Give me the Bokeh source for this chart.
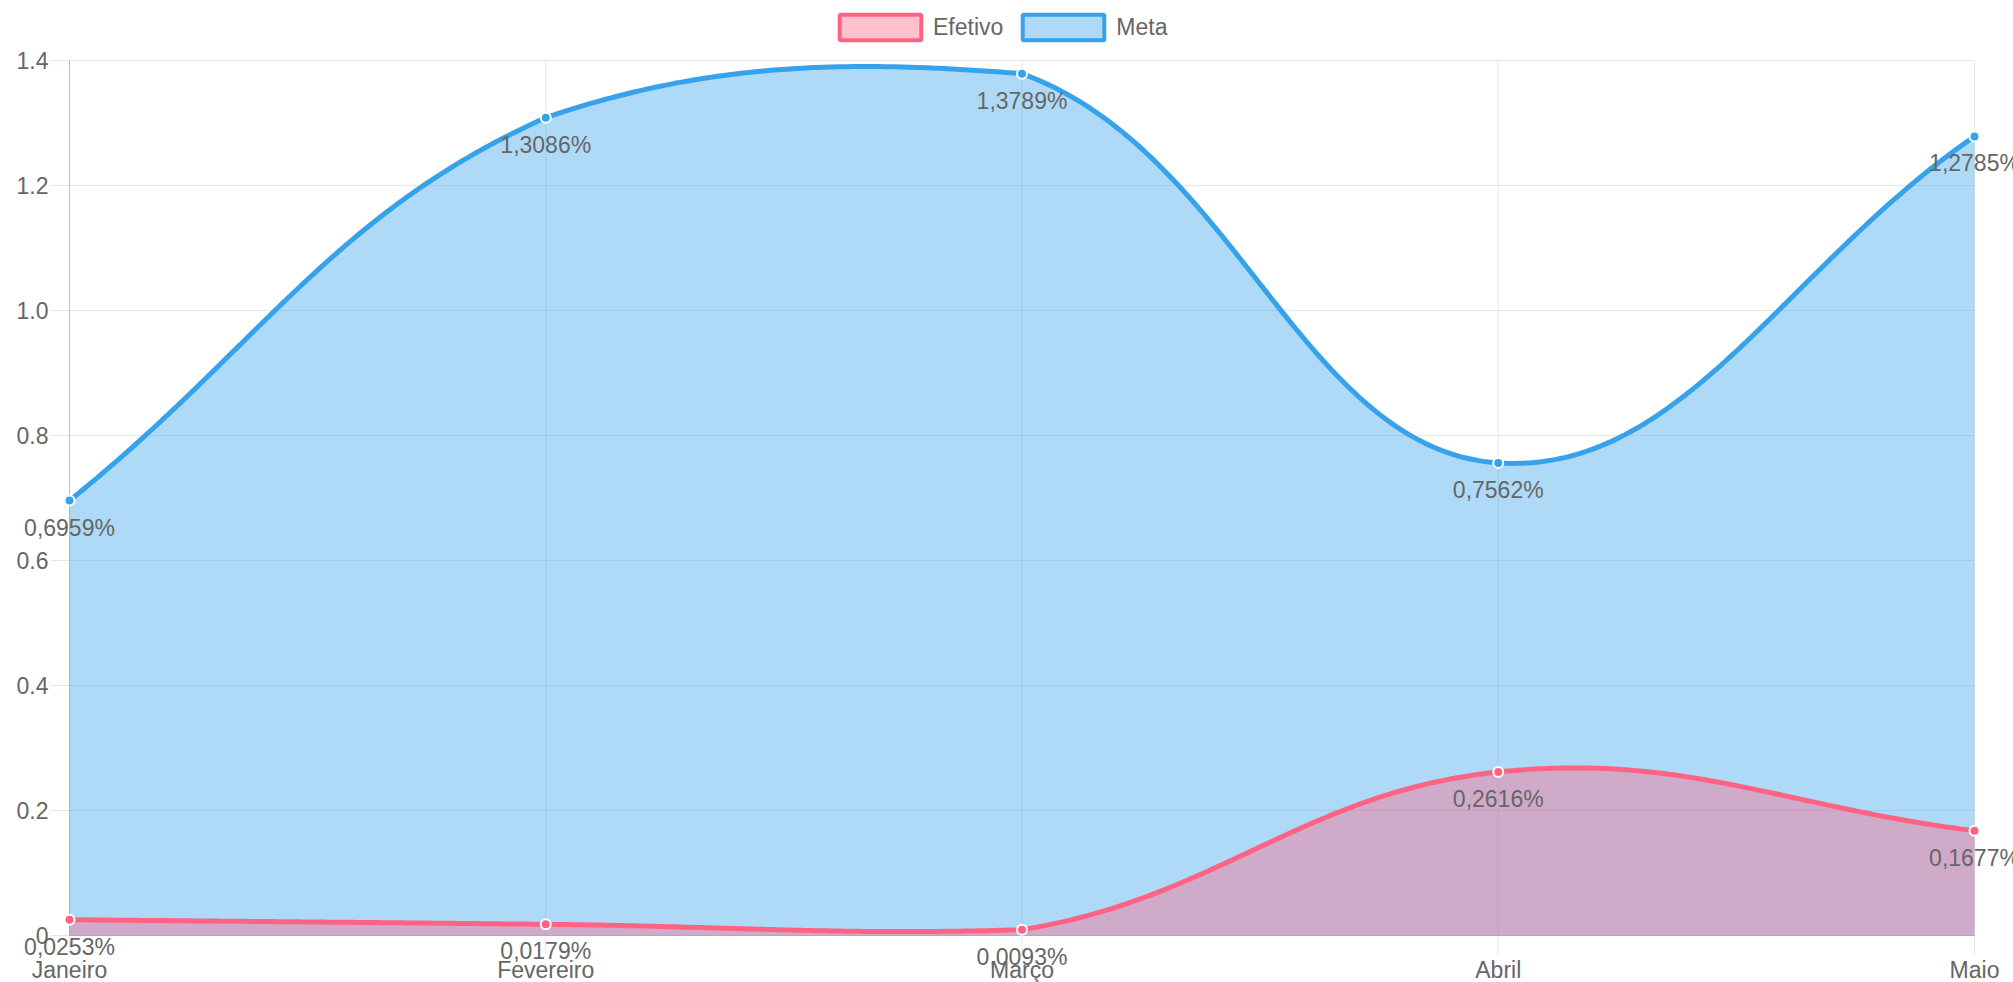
import numpy as np
from bokeh.plotting import figure
from bokeh.models import Range1d, Legend, LegendItem, ColumnDataSource
from bokeh.core.properties import value
from bokeh.embed import file_html
from bokeh.resources import INLINE

# ---------------- data ----------------
categories = ["Janeiro", "Fevereiro", "Março", "Abril", "Maio"]
efetivo = [0.0253, 0.0179, 0.0093, 0.2616, 0.1677]
meta = [0.6959, 1.3086, 1.3789, 0.7562, 1.2785]
series_names = ["Efetivo", "Meta"]
y_ticks = [0, 0.2, 0.4, 0.6, 0.8, 1.0, 1.2, 1.4]
y_tick_labels = ["0", "0.2", "0.4", "0.6", "0.8", "1.0", "1.2", "1.4"]

# ---------------- layout (pixels) ----------------
W, H = 2013, 982
PL, PR, PT, PB = 69, 1974, 60, 935      # plot area edges in canvas pixels
X_MAX = len(categories) - 1
Y_MAX = y_ticks[-1]
KX = (PR - PL) / X_MAX                  # px per category step
KY = (PB - PT) / Y_MAX                  # px per value unit
TICK = 19                               # tick mark length, px
FONT = "Liberation Sans"
FS = "23px"
TXT = "#666666"
GRID = "#e6e6e6"
AXIS = "#bfbfbf"
PINK = "#FF6384"
BLUE = "#36A2EB"


def spline(vals, tension=0.4, n=120):
    """Chart.js style spline (tension 0.4), control points capped to the plot area."""
    m = len(vals)
    xs = np.arange(m, dtype=float)
    ys = np.asarray(vals, dtype=float)
    cps = []
    for i in range(m):
        ip = max(i - 1, 0)
        inx = min(i + 1, m - 1)
        d01 = np.hypot((xs[i] - xs[ip]) * KX, (ys[i] - ys[ip]) * KY)
        d12 = np.hypot((xs[inx] - xs[i]) * KX, (ys[inx] - ys[i]) * KY)
        tot = d01 + d12
        s01 = d01 / tot if tot else 0.0
        s12 = d12 / tot if tot else 0.0
        fa, fb = tension * s01, tension * s12
        dx = xs[inx] - xs[ip]
        dy = ys[inx] - ys[ip]
        prev = [xs[i] - fa * dx, ys[i] - fa * dy]
        nxt = [xs[i] + fb * dx, ys[i] + fb * dy]
        for c in (prev, nxt):
            c[0] = min(max(c[0], 0.0), X_MAX)
            c[1] = min(max(c[1], 0.0), Y_MAX)
        cps.append((prev, nxt))
    t = np.linspace(0, 1, n)
    ox, oy = [], []
    for i in range(m - 1):
        p0 = (xs[i], ys[i])
        p1 = cps[i][1]
        p2 = cps[i + 1][0]
        p3 = (xs[i + 1], ys[i + 1])
        a = (1 - t) ** 3
        b = 3 * (1 - t) ** 2 * t
        c = 3 * (1 - t) * t ** 2
        d = t ** 3
        bx = a * p0[0] + b * p1[0] + c * p2[0] + d * p3[0]
        by = a * p0[1] + b * p1[1] + c * p2[1] + d * p3[1]
        if i > 0:
            bx, by = bx[1:], by[1:]
        ox.extend(bx.tolist())
        oy.extend(by.tolist())
    return ox, oy


def fmt(v):
    return f"{v:.4f}%".replace(".", ",")


x_range = Range1d(-PL / KX, X_MAX + (W - PR) / KX)
y_range = Range1d(-(H - PB) / KY, Y_MAX + PT / KY)

p = figure(width=W, height=H, x_range=x_range, y_range=y_range,
           output_backend="svg", toolbar_location=None,
           x_axis_location=None, y_axis_location=None, min_border=0)
p.outline_line_color = None
p.background_fill_color = "white"
p.border_fill_color = "white"
p.xgrid.visible = False
p.ygrid.visible = False

xt = list(range(len(categories)))
tick_dx = TICK / KX
tick_dy = TICK / KY

# grid lines (extending out as tick marks)
g1 = p.segment(x0=xt, y0=[-tick_dy] * len(xt), x1=xt, y1=[Y_MAX] * len(xt),
               line_color=GRID, line_width=1)
g2 = p.segment(x0=[-tick_dx] * len(y_ticks), y0=y_ticks, x1=[X_MAX] * len(y_ticks), y1=y_ticks,
               line_color=GRID, line_width=1)
# axis lines
g3 = p.segment(x0=[0, 0], y0=[0, 0], x1=[0, X_MAX], y1=[Y_MAX, 0], line_color=AXIS, line_width=1)
for g in (g1, g2, g3):
    g.level = "underlay"

# tick labels
p.text(x=[0] * len(y_ticks), y=y_ticks, text=y_tick_labels, x_offset=-(TICK + 2),
       text_align="right", text_baseline="middle", text_font=value(FONT),
       text_font_size=FS, text_color=TXT)
p.text(x=xt, y=[0] * len(xt), text=categories, y_offset=TICK + 15,
       text_align="center", text_baseline="middle", text_font=value(FONT),
       text_font_size=FS, text_color=TXT)

# series
mx, my = spline(meta)
ex, ey = spline(efetivo)

p.varea(x=mx, y1=[0] * len(mx), y2=my, fill_color=BLUE, fill_alpha=0.4)
p.line(mx, my, line_color=BLUE, line_width=5)
p.scatter(xt, meta, size=10, fill_color=BLUE, line_color="white", line_width=2)

p.varea(x=ex, y1=[0] * len(ex), y2=ey, fill_color=PINK, fill_alpha=0.4)
p.line(ex, ey, line_color=PINK, line_width=5)
p.scatter(xt, efetivo, size=10, fill_color=PINK, line_color="white", line_width=2)

# data labels
p.text(x=xt + xt, y=efetivo + meta,
       text=[fmt(v) for v in efetivo] + [fmt(v) for v in meta],
       y_offset=27, text_align="center", text_baseline="middle",
       text_font=value(FONT), text_font_size=FS, text_color=TXT)

# legend swatches: one-row quads, kept "selected" with an invisible selection glyph
def swatch(color):
    src = ColumnDataSource(dict(l=[0], r=[0], t=[0], b=[0]))
    src.selected.indices = [0]
    return p.quad(left="l", right="r", top="t", bottom="b", source=src,
                  fill_color=color, fill_alpha=0.4, line_color=color, line_width=4,
                  selection_fill_alpha=0, selection_line_alpha=0,
                  nonselection_fill_alpha=0, nonselection_line_alpha=0)


r_e = swatch(PINK)
r_m = swatch(BLUE)
GW, GH = 102, 32   # quad legend swatch is inset by 10% on each side
legend = Legend(items=[LegendItem(label=series_names[0], renderers=[r_e]),
                       LegendItem(label=series_names[1], renderers=[r_m])],
                orientation="horizontal", location=(829, H - 43),
                padding=0, margin=0, spacing=9, label_standoff=2,
                glyph_width=GW, glyph_height=GH, label_height=GH,
                border_line_color=None, background_fill_alpha=0,
                label_text_font=FONT, label_text_font_size=FS, label_text_color=TXT)
p.add_layout(legend)

open("out.html", "w").write(file_html(p, INLINE))
